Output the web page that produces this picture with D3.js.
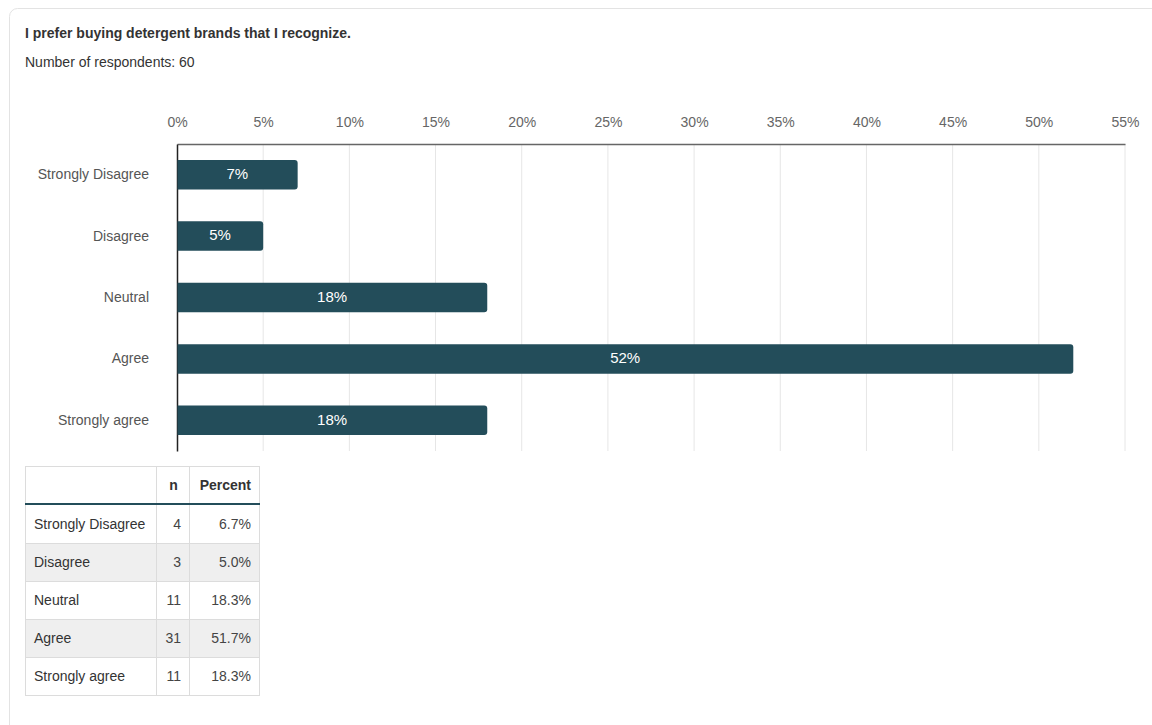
<!DOCTYPE html>
<html>
<head>
<meta charset="utf-8">
<script src="https://cdn.jsdelivr.net/npm/d3@7"></script>
<style>
  html, body { margin: 0; padding: 0; background: #fff; }
  svg { display: block; font-family: "Liberation Sans", Arial, Helvetica, sans-serif; }
</style>
</head>
<body>
<svg id="chart" width="1152" height="725"></svg>
<script>
// Survey answers for the statement
const categories = ["Strongly Disagree", "Disagree", "Neutral", "Agree", "Strongly agree"];
const counts = [4, 3, 11, 31, 11];
const percentRounded = [7, 5, 18, 52, 18];
const percentExact = ["6.7%", "5.0%", "18.3%", "51.7%", "18.3%"];
const tickValues = [0, 5, 10, 15, 20, 25, 30, 35, 40, 45, 50, 55];
const tableHeader = ["", "n", "Percent"];
const title = "I prefer buying detergent brands that I recognize.";
const subtitle = "Number of respondents: 60";

const barColor = "#234d5a";
const svg = d3.select("#chart");

// card outline
svg.append("rect")
  .attr("x", 9.5).attr("y", 8.5)
  .attr("width", 1160).attr("height", 740)
  .attr("rx", 8)
  .attr("fill", "#fff")
  .attr("stroke", "#e3e3e3");

svg.append("text")
  .attr("x", 25).attr("y", 38)
  .attr("font-size", 14).attr("font-weight", "bold")
  .attr("fill", "#333")
  .text(title);

svg.append("text")
  .attr("x", 25).attr("y", 67)
  .attr("font-size", 14)
  .attr("fill", "#333")
  .text(subtitle);

// chart area
const plotLeft = 177, plotRight = 1125, plotTop = 144, plotBottom = 451;
const x = d3.scaleLinear().domain([0, 55]).range([plotLeft, plotRight]);
const y = d3.scaleBand().domain(categories).range([plotTop, plotBottom]).paddingInner(0.52).paddingOuter(0.26);

// gridlines
svg.append("g")
  .selectAll("line")
  .data(tickValues.slice(1))
  .join("line")
  .attr("x1", d => x(d)).attr("x2", d => x(d))
  .attr("y1", plotTop).attr("y2", plotBottom)
  .attr("stroke", "#e6e6e6").attr("stroke-width", 1);

// top axis
const xAxis = d3.axisTop(x).tickValues(tickValues).tickFormat(d => d + "%").tickSize(0).tickPadding(16);
const gx = svg.append("g")
  .attr("transform", `translate(0,${plotTop})`)
  .call(xAxis);
gx.select(".domain").attr("stroke", "#666").attr("stroke-width", 1.5);
gx.selectAll("text")
  .attr("font-family", "'Liberation Sans', Arial, sans-serif")
  .attr("font-size", 14)
  .attr("fill", "#666")
  .attr("dy", "-0.1em");

// left axis
const yAxis = d3.axisLeft(y).tickSize(0).tickPadding(28);
const gy = svg.append("g")
  .attr("transform", `translate(${plotLeft},0)`)
  .call(yAxis);
gy.select(".domain").attr("stroke", "#222").attr("stroke-width", 1.5);
gy.selectAll("text")
  .attr("font-family", "'Liberation Sans', Arial, sans-serif")
  .attr("font-size", 14)
  .attr("fill", "#555");

// bars with rounded right end
const r = 3;
const barData = categories.map((c, i) => ({ c, v: percentRounded[i] }));
svg.append("g")
  .selectAll("path")
  .data(barData)
  .join("path")
  .attr("d", d => {
    const x0 = x(0) + 0.5, x1 = x(d.v), y0 = y(d.c), h = y.bandwidth();
    return `M${x0},${y0} H${x1 - r} Q${x1},${y0} ${x1},${y0 + r} V${y0 + h - r} Q${x1},${y0 + h} ${x1 - r},${y0 + h} H${x0} Z`;
  })
  .attr("fill", barColor);

svg.append("g")
  .selectAll("text")
  .data(barData)
  .join("text")
  .attr("x", d => (x(0) + x(d.v)) / 2)
  .attr("y", d => y(d.c) + y.bandwidth() / 2 - 1)
  .attr("dy", "0.35em")
  .attr("text-anchor", "middle")
  .attr("font-size", 15)
  .attr("fill", "#fff")
  .text(d => d.v + "%");

// frequency table
const colX = [25, 156, 189, 259];
const tTop = 466, headH = 39, rowH = 38;
const tbl = svg.append("g");

const rows = categories.map((c, i) => [c, counts[i], percentExact[i]]);

tbl.selectAll("rect.row")
  .data(rows)
  .join("rect")
  .attr("class", "row")
  .attr("x", colX[0]).attr("y", (d, i) => tTop + headH + i * rowH)
  .attr("width", colX[3] - colX[0]).attr("height", rowH)
  .attr("fill", (d, i) => i % 2 ? "#efefef" : "#fff");

// grid lines of the table
const bordColor = "#dcdcdc";
const tBottom = tTop + headH + rows.length * rowH;
tbl.selectAll("line.v")
  .data(colX)
  .join("line")
  .attr("class", "v")
  .attr("x1", d => d + 0.5).attr("x2", d => d + 0.5)
  .attr("y1", tTop).attr("y2", tBottom)
  .attr("stroke", bordColor);
tbl.selectAll("line.h")
  .data([tTop].concat(d3.range(1, rows.length + 1).map(i => tTop + headH + i * rowH)))
  .join("line")
  .attr("class", "h")
  .attr("x1", colX[0]).attr("x2", colX[3] + 1)
  .attr("y1", d => d + 0.5).attr("y2", d => d + 0.5)
  .attr("stroke", bordColor);
tbl.append("line")
  .attr("x1", colX[0]).attr("x2", colX[3] + 1)
  .attr("y1", tTop + headH - 1).attr("y2", tTop + headH - 1)
  .attr("stroke", barColor).attr("stroke-width", 2);

// header text
tbl.append("text")
  .attr("x", (colX[1] + colX[2]) / 2 + 1).attr("y", tTop + headH / 2)
  .attr("dy", "0.35em").attr("text-anchor", "middle")
  .attr("font-size", 14).attr("font-weight", "bold").attr("fill", "#333")
  .text(tableHeader[1]);
tbl.append("text")
  .attr("x", colX[3] - 8).attr("y", tTop + headH / 2)
  .attr("dy", "0.35em").attr("text-anchor", "end")
  .attr("font-size", 14).attr("font-weight", "bold").attr("fill", "#333")
  .text(tableHeader[2]);

// body text
const bodyRows = tbl.selectAll("g.body")
  .data(rows)
  .join("g")
  .attr("class", "body")
  .attr("transform", (d, i) => `translate(0,${tTop + headH + i * rowH + rowH / 2})`);
bodyRows.append("text")
  .attr("x", colX[0] + 9).attr("dy", "0.35em")
  .attr("font-size", 14).attr("fill", "#333")
  .text(d => d[0]);
bodyRows.append("text")
  .attr("x", colX[2] - 8).attr("dy", "0.35em").attr("text-anchor", "end")
  .attr("font-size", 14).attr("fill", "#444")
  .text(d => d[1]);
bodyRows.append("text")
  .attr("x", colX[3] - 8).attr("dy", "0.35em").attr("text-anchor", "end")
  .attr("font-size", 14).attr("fill", "#444")
  .text(d => d[2]);
</script>
</body>
</html>
